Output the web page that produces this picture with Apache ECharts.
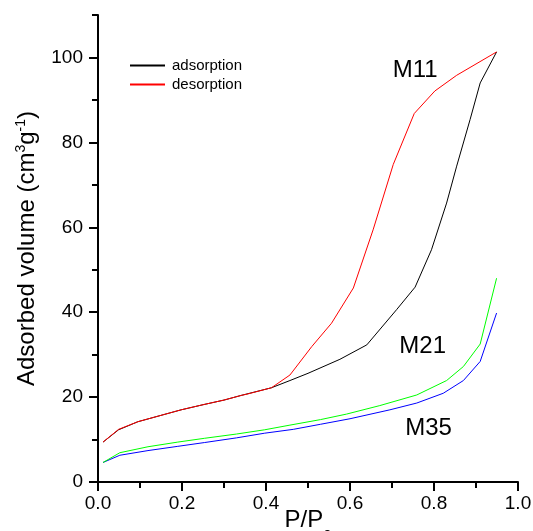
<!DOCTYPE html>
<html>
<head>
<meta charset="utf-8">
<script src="https://cdn.jsdelivr.net/npm/echarts@6/dist/echarts.min.js"></script>
<style>html,body{margin:0;padding:0;background:#fff}#c{width:533px;height:531px}</style>
</head>
<body>
<div id="c"></div>
<script>
// M11 adsorption (black)
const m11Ads = [[0.012,9.4],[0.049,12.3],[0.095,14.2],[0.15,15.7],[0.198,17.0],[0.25,18.2],[0.3,19.3],[0.341,20.4],[0.413,22.2],[0.457,23.9],[0.5,25.6],[0.576,28.9],[0.64,32.3],[0.711,40.6],[0.755,45.9],[0.794,54.7],[0.83,65.7],[0.854,74.4],[0.886,85.4],[0.91,94.0],[0.949,101.3]];
// M11 desorption (red)
const m11Des = [[0.949,101.3],[0.854,95.8],[0.802,92.1],[0.753,86.8],[0.703,74.8],[0.655,59.4],[0.608,45.7],[0.556,37.4],[0.509,31.9],[0.457,25.2],[0.413,22.2],[0.355,20.7],[0.341,20.4],[0.3,19.3],[0.25,18.2],[0.198,17.0],[0.15,15.7],[0.095,14.2],[0.049,12.4],[0.012,9.4]];
// M21 (green)
const m21 = [[0.012,4.6],[0.052,6.9],[0.119,8.3],[0.19,9.4],[0.254,10.3],[0.33,11.3],[0.397,12.3],[0.457,13.4],[0.53,14.7],[0.592,16.0],[0.671,18.0],[0.759,20.5],[0.83,23.9],[0.87,27.2],[0.91,32.5],[0.949,48.0]];
// M35 (blue)
const m35 = [[0.012,4.6],[0.052,6.3],[0.119,7.4],[0.19,8.4],[0.254,9.3],[0.33,10.4],[0.397,11.5],[0.465,12.4],[0.53,13.6],[0.6,14.9],[0.695,17.0],[0.759,18.6],[0.822,20.9],[0.87,23.9],[0.91,28.4],[0.949,39.8]];
// sample labels [text, P/P0, volume]
const sampleLabels = [['M11',0.755,96.9],['M21',0.773,32.0],['M35',0.787,12.7]];
// ticks
const xMajor = [0,0.2,0.4,0.6,0.8,1.0];
const xMinor = [0.1,0.3,0.5,0.7,0.9];
const yMajor = [0,20,40,60,80,100];
const yMinor = [10,30,50,70,90,110];

const F = 'Liberation Sans, Arial, sans-serif';
const chart = echarts.init(document.getElementById('c'));
const axisLine = {show:true, lineStyle:{color:'#000', width:2}};
chart.setOption({
  animation:false,
  backgroundColor:'#fff',
  grid:{left:98, right:15, top:15, bottom:49, containLabel:false, outerBoundsMode:'none'},
  legend:{
    data:['adsorption','desorption'], orient:'vertical', left:125, top:53,
    itemWidth:35, itemHeight:2, itemGap:4, icon:'rect',
    textStyle:{fontFamily:F, fontSize:15, color:'#000', padding:[0,0,0,2]}
  },
  xAxis:[{
    type:'value', min:0, max:1.0,
    axisLine, splitLine:{show:false},
    axisTick:{show:true, customValues:xMajor, length:9, lineStyle:{color:'#000',width:2}},
    axisLabel:{customValues:xMajor, margin:12, fontFamily:F, fontSize:19, color:'#000', formatter:v=>v.toFixed(1)},
    name:'{a|P/P}{s|0}', nameLocation:'middle', nameGap:16, nameMoveOverlap:false,
    nameTextStyle:{rich:{a:{fontFamily:F,fontSize:24,color:'#000'}, s:{fontFamily:F,fontSize:15,color:'#000',padding:[30,0,0,0]}}}
  },{
    type:'value', min:0, max:1.0, position:'bottom',
    axisLine:{show:false}, splitLine:{show:false}, axisLabel:{show:false},
    axisTick:{show:true, customValues:xMinor, length:6, lineStyle:{color:'#000',width:2}}
  }],
  yAxis:[{
    type:'value', min:0, max:110,
    axisLine, splitLine:{show:false},
    axisTick:{show:true, customValues:yMajor, length:9, lineStyle:{color:'#000',width:2}},
    axisLabel:{customValues:yMajor, margin:15, fontFamily:F, fontSize:19, color:'#000'},
    name:'{a|Adsorbed volume (cm}{s|3}{a|g}{s|-1}{a|)}', nameLocation:'middle', nameGap:58, nameMoveOverlap:false,
    nameTextStyle:{rich:{a:{fontFamily:F,fontSize:24,color:'#000'}, s:{fontFamily:F,fontSize:14,color:'#000',padding:[0,0,12,0]}}}
  },{
    type:'value', min:0, max:110, position:'left',
    axisLine:{show:false}, splitLine:{show:false}, axisLabel:{show:false},
    axisTick:{show:true, customValues:yMinor, length:6, lineStyle:{color:'#000',width:2}}
  }],
  series:[
    {name:'M35', type:'line', data:m35, showSymbol:false, lineStyle:{color:'#0000ff',width:1}, itemStyle:{color:'#0000ff'}},
    {name:'M21', type:'line', data:m21, showSymbol:false, lineStyle:{color:'#00ff00',width:1}, itemStyle:{color:'#00ff00'}},
    {name:'adsorption', type:'line', data:m11Ads, showSymbol:false, lineStyle:{color:'#000000',width:1}, itemStyle:{color:'#000000'}},
    {name:'desorption', type:'line', data:m11Des, showSymbol:false, lineStyle:{color:'#ff0000',width:1}, itemStyle:{color:'#ff0000'}},
    {name:'labels', type:'scatter', data:sampleLabels.map(d=>({value:[d[1],d[2]], name:d[0]})), symbolSize:0,
     itemStyle:{opacity:1, color:'#000'},
     label:{show:true, position:'inside', formatter:p=>p.name, fontFamily:F, fontSize:24, color:'#000', opacity:1}}
  ]
});
</script>
</body>
</html>
